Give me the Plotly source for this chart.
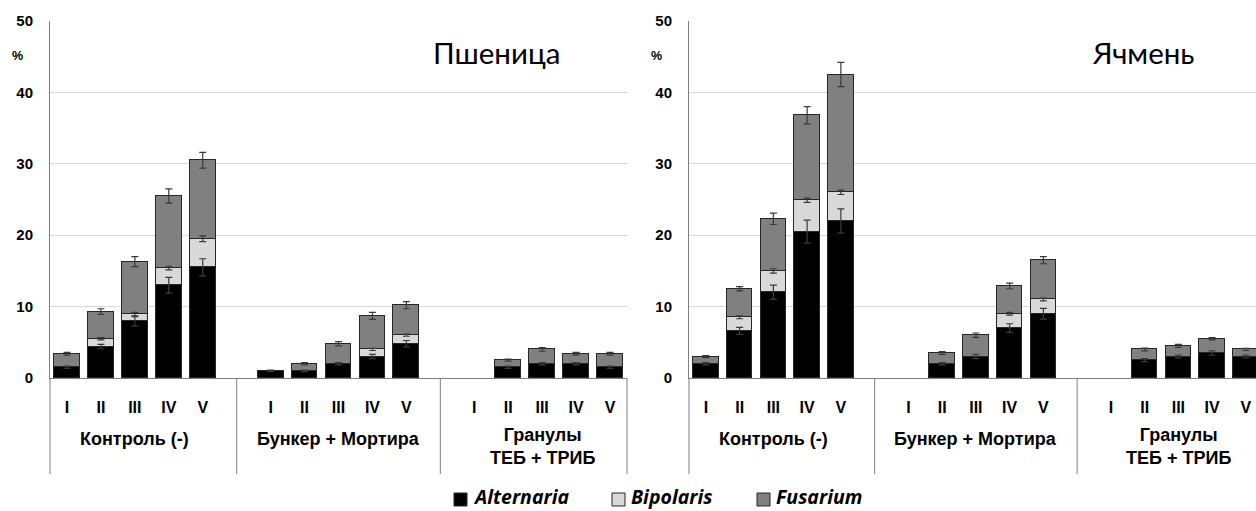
import numpy as np
import plotly.graph_objects as go

# ---- data -------------------------------------------------------------
stages = ["I", "II", "III", "IV", "V"]
treatments = ["Контроль (-)", "Бункер + Мортира", "Гранулы<br>ТЕБ + ТРИБ"]
crops = ["Пшеница", "Ячмень"]
pathogens = ["Alternaria", "Bipolaris", "Fusarium"]

# infection, % (5 stages per treatment)
wheat_alternaria = [1.5, 4.4, 8.0, 13.0, 15.5, 1.0, 1.0, 2.0, 3.0, 4.8, 0.0, 1.5, 2.0, 2.0, 1.5]
wheat_bipolaris = [0.0, 1.1, 0.9, 2.4, 4.0, 0.0, 0.0, 0.0, 1.0, 1.2, 0.0, 0.0, 0.0, 0.0, 0.0]
wheat_fusarium = [1.9, 3.8, 7.4, 10.1, 11.0, 0.0, 1.0, 2.8, 4.7, 4.2, 0.0, 1.0, 2.0, 1.4, 1.9]

barley_alternaria = [2.0, 6.6, 12.0, 20.5, 22.0, 0.0, 2.0, 3.0, 7.0, 9.0, 0.0, 2.5, 3.0, 3.5, 3.0]
barley_bipolaris = [0.0, 1.9, 3.0, 4.4, 4.0, 0.0, 0.0, 0.0, 2.0, 2.0, 0.0, 0.0, 0.0, 0.0, 0.0]
barley_fusarium = [1.0, 4.0, 7.3, 11.9, 16.5, 0.0, 1.5, 3.0, 3.9, 5.5, 0.0, 1.5, 1.5, 2.0, 1.0]

# standard errors
wheat_alternaria_err = [0.15, 0.3, 0.7, 1.1, 1.2, 0.1, 0.1, 0.15, 0.3, 0.45, 0.0, 0.15, 0.15, 0.15, 0.15]
wheat_bipolaris_err = [0.0, 0.15, 0.3, 0.25, 0.4, 0.0, 0.0, 0.0, 0.15, 0.15, 0.0, 0.0, 0.0, 0.0, 0.0]
wheat_fusarium_err = [0.2, 0.4, 0.7, 1.0, 1.1, 0.0, 0.15, 0.3, 0.5, 0.5, 0.0, 0.15, 0.25, 0.2, 0.2]

barley_alternaria_err = [0.15, 0.5, 1.0, 1.6, 1.7, 0.0, 0.15, 0.3, 0.6, 0.75, 0.0, 0.2, 0.2, 0.3, 0.2]
barley_bipolaris_err = [0.0, 0.2, 0.3, 0.3, 0.3, 0.0, 0.0, 0.0, 0.2, 0.2, 0.0, 0.0, 0.0, 0.0, 0.0]
barley_fusarium_err = [0.15, 0.3, 0.8, 1.2, 1.7, 0.0, 0.2, 0.3, 0.4, 0.5, 0.0, 0.2, 0.2, 0.15, 0.15]

y_ticks = [0, 10, 20, 30, 40, 50]

# ---- styling -----------------------------------------------------------
W, H = 1256, 511
colors = {"Alternaria": "#000000", "Bipolaris": "#d9d9d9", "Fusarium": "#808080"}
outline = "#262626"
axis_grey = "#7f7f7f"
err_col = "#3a3a3a"
AX_FONT = "Liberation Sans, Arial, sans-serif"
TITLE_FONT = "Lato, Open Sans, sans-serif"
KEY_FONT = "Open Sans, sans-serif"


def px_x(v):
    return v / W


def px_y(v):
    return 1 - v / H


# one empty slot between treatment groups
slots_per_group = len(stages) + 1
pos = [g * slots_per_group + i for g in range(len(treatments)) for i in range(len(stages))]
group_centres = [float(np.mean(pos[g * 5:(g + 1) * 5])) for g in range(len(treatments))]
group_edges = [g * slots_per_group - 1 for g in range(1, len(treatments))]

panels = [
    dict(crop=crops[0], ax="x", ay="y",
         values=[wheat_alternaria, wheat_bipolaris, wheat_fusarium],
         errors=[wheat_alternaria_err, wheat_bipolaris_err, wheat_fusarium_err],
         px0=50, px1=627, xmax=16.5, title_px=496, pct_px=17),
    dict(crop=crops[1], ax="x2", ay="y2",
         values=[barley_alternaria, barley_bipolaris, barley_fusarium],
         errors=[barley_alternaria_err, barley_bipolaris_err, barley_fusarium_err],
         px0=689, px1=1256, xmax=16.3, title_px=1143, pct_px=656),
]

fig = go.Figure()

for k, p in enumerate(panels):
    for name, vals in zip(pathogens, p["values"]):
        # empty segments are left undrawn
        fig.add_trace(go.Bar(
            x=pos, y=[v if v > 0 else None for v in vals], name=name, width=0.76,
            marker=dict(color=colors[name], line=dict(color=outline, width=1.3)),
            xaxis=p["ax"], yaxis=p["ay"], showlegend=False, hoverinfo="skip",
        ))
    # error bars sit on top of each stacked segment, above all bars
    tops = np.cumsum(np.array(p["values"], dtype=float), axis=0)
    for name, top, err in zip(pathogens, tops, p["errors"]):
        fig.add_trace(go.Scatter(
            x=pos, y=[t if e > 0 else None for t, e in zip(top, err)], mode="markers",
            marker=dict(size=1, color="rgba(0,0,0,0)"),
            error_y=dict(type="data", array=err, color=err_col, thickness=1.2, width=3.5),
            xaxis=p["ax"], yaxis=p["ay"], showlegend=False, hoverinfo="skip",
        ))

y_dom = [px_y(378), px_y(21)]
div_bottom = px_y(474)
shapes = []
annotations = []
layout_axes = {}
for k, p in enumerate(panels):
    sfx = "" if k == 0 else "2"
    layout_axes["xaxis" + sfx] = dict(
        domain=[px_x(p["px0"]), px_x(p["px1"])], range=[-0.5, p["xmax"]],
        anchor="y" + sfx, tickmode="array", tickvals=pos,
        ticktext=stages * len(treatments),
        tickfont=dict(family=AX_FONT, size=16, color="#000000", weight="bold"),
        showline=True, linecolor=axis_grey, linewidth=1, ticks="",
        ticklabelstandoff=15, showgrid=False, zeroline=False, fixedrange=True,
    )
    layout_axes["yaxis" + sfx] = dict(
        domain=y_dom, range=[0, 50], anchor="x" + sfx,
        tickmode="array", tickvals=y_ticks,
        tickfont=dict(family=AX_FONT, size=15, color="#000000", weight="bold"),
        showline=True, linecolor=axis_grey, linewidth=1, ticks="",
        ticklabelstandoff=13, showgrid=True, gridcolor="#d9d9d9", gridwidth=1,
        zeroline=False, fixedrange=True,
    )
    # group dividers below the category axis
    shapes.append(dict(type="line", xref="x" + sfx + " domain", yref="paper",
                       x0=0, x1=0, y0=div_bottom, y1=y_dom[0],
                       line=dict(color=axis_grey, width=1)))
    for e in group_edges:
        shapes.append(dict(type="line", xref="x" + sfx, yref="paper",
                           x0=e, x1=e, y0=div_bottom, y1=y_dom[0],
                           line=dict(color=axis_grey, width=1)))
    if p["xmax"] >= pos[-1] + 0.5:
        shapes.append(dict(type="line", xref="x" + sfx + " domain", yref="paper",
                           x0=1, x1=1, y0=div_bottom, y1=y_dom[0],
                           line=dict(color=axis_grey, width=1)))
    # treatment labels
    for t, c in zip(treatments, group_centres):
        two_lines = "<br>" in t
        annotations.append(dict(
            xref="x" + sfx, yref="paper", x=c, y=px_y(446 if two_lines else 439),
            text="<b>" + t + "</b>", showarrow=False, xanchor="center", yanchor="middle",
            font=dict(family=AX_FONT, size=18, color="#000000"),
        ))
    # crop title and unit
    annotations.append(dict(
        xref="paper", yref="paper", x=px_x(p["title_px"]), y=px_y(52),
        text=p["crop"], showarrow=False, xanchor="center", yanchor="middle",
        font=dict(family=TITLE_FONT, size=29.5, color="#000000"),
    ))
    annotations.append(dict(
        xref="paper", yref="paper", x=px_x(p["pct_px"]), y=px_y(56),
        text="<b>%</b>", showarrow=False, xanchor="center", yanchor="middle",
        font=dict(family=AX_FONT, size=12.5, color="#000000"),
    ))

# key below both panels
key_square_px = [454, 612, 757]
for name, sx in zip(pathogens, key_square_px):
    shapes.append(dict(type="rect", xref="paper", yref="paper",
                       x0=px_x(sx), x1=px_x(sx + 13), y0=px_y(506), y1=px_y(493),
                       fillcolor=colors[name], line=dict(color=outline, width=1)))
    annotations.append(dict(
        xref="paper", yref="paper", x=px_x(sx + 18), y=0,
        text="<b><i>" + name + "</i></b>", showarrow=False,
        xanchor="left", yanchor="bottom", borderpad=0,
        font=dict(family=KEY_FONT, size=19.5, color="#000000"),
    ))

fig.update_layout(
    width=W, height=H,
    margin=dict(l=0, r=0, t=0, b=0, autoexpand=False),
    paper_bgcolor="#ffffff", plot_bgcolor="#ffffff",
    barmode="stack", bargap=0,
    showlegend=False,
    shapes=shapes, annotations=annotations,
    **layout_axes,
)

fig.write_html("out.html")
